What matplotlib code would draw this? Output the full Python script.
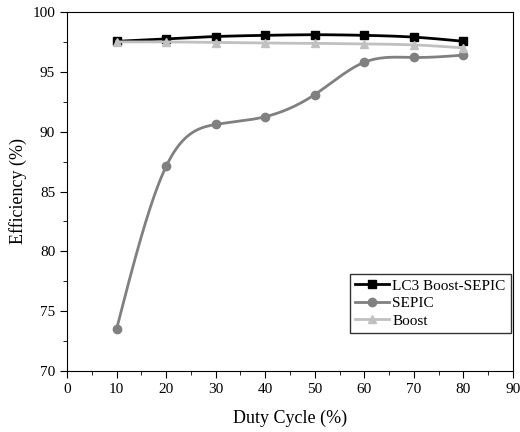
import numpy as np
import matplotlib
matplotlib.use("Agg")
import matplotlib.pyplot as plt
from matplotlib.ticker import MultipleLocator

duty = [10, 20, 30, 40, 50, 60, 70, 80]
lc3 = [97.55, 97.75, 97.95, 98.05, 98.1, 98.05, 97.9, 97.55]
sepic = [73.5, 87.1, 90.6, 91.25, 93.1, 95.8, 96.2, 96.4]
boost = [97.5, 97.5, 97.45, 97.4, 97.38, 97.33, 97.25, 97.0]

def spline(x, y, n=300):
    x = np.asarray(x, float); y = np.asarray(y, float)
    m = len(x); h = np.diff(x)
    A = np.zeros((m, m)); b = np.zeros(m)
    A[0, 0] = A[-1, -1] = 1
    for i in range(1, m - 1):
        A[i, i - 1] = h[i - 1]; A[i, i] = 2 * (h[i - 1] + h[i]); A[i, i + 1] = h[i]
        b[i] = 3 * ((y[i + 1] - y[i]) / h[i] - (y[i] - y[i - 1]) / h[i - 1])
    c = np.linalg.solve(A, b)
    xs = np.linspace(x[0], x[-1], n); ys = np.empty_like(xs)
    for k, xv in enumerate(xs):
        i = min(np.searchsorted(x, xv, side='right') - 1, m - 2)
        d = xv - x[i]
        bb = (y[i + 1] - y[i]) / h[i] - h[i] * (2 * c[i] + c[i + 1]) / 3
        dd = (c[i + 1] - c[i]) / (3 * h[i])
        ys[k] = y[i] + bb * d + c[i] * d * d + dd * d ** 3
    return xs, ys

plt.rcParams['font.family'] = ['Liberation Serif', 'DejaVu Serif']
fig = plt.figure(figsize=(5.2, 4.32), dpi=100)
ax = fig.add_axes([67 / 520, 1 - 371 / 432, (513 - 67) / 520, (371 - 12) / 432])

series = [(lc3, 'black', 's', 'LC3 Boost-SEPIC'),
          (sepic, '#808080', 'o', 'SEPIC'),
          (boost, '#c0c0c0', '^', 'Boost')]
for ys, col, mk, lab in series:
    sx, sy = spline(duty, ys)
    ax.plot(sx, sy, color=col, lw=2)
    ax.plot(duty, ys, ls='none', marker=mk, color=col, ms=6)
    ax.plot([], [], color=col, lw=2, marker=mk, ms=6, label=lab)

ax.set_xlim(0, 90)
ax.set_ylim(70, 100)
ax.xaxis.set_major_locator(MultipleLocator(10))
ax.xaxis.set_minor_locator(MultipleLocator(5))
ax.yaxis.set_major_locator(MultipleLocator(5))
ax.yaxis.set_minor_locator(MultipleLocator(2.5))
ax.tick_params(which='both', direction='out', labelsize=11, top=False, right=False)
ax.tick_params(which='major', length=5)
ax.tick_params(which='minor', length=3)
ax.set_xlabel('Duty Cycle (%)', fontsize=13, labelpad=10)
ax.set_ylabel('Efficiency (%)', fontsize=13)
leg = ax.legend(loc='lower right', bbox_to_anchor=(0.9955, 0.106), fontsize=11, frameon=True,
                fancybox=False, edgecolor='black', handlelength=2.2, borderpad=0.35,
                labelspacing=0.25, handletextpad=0.25, borderaxespad=0)
leg.get_frame().set_linewidth(1)
fig.savefig('out.png', dpi=100)
